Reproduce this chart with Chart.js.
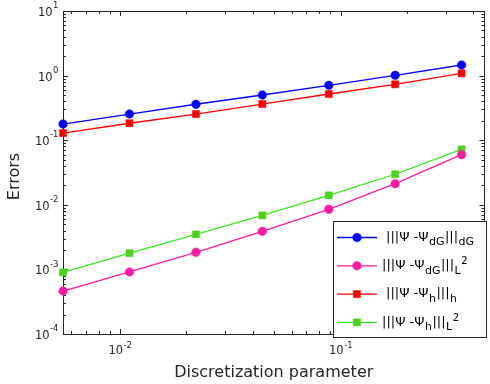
<!DOCTYPE html>
<html lang="en">
<head>
<meta charset="utf-8">
<title>Errors vs discretization parameter</title>
<script src="https://cdn.jsdelivr.net/npm/chart.js"></script>
<style>
  html, body { margin: 0; padding: 0; background: #fff; }
  #wrap { width: 490px; height: 384px; }
</style>
</head>
<body>
<div id="wrap"><canvas id="myChart" width="490" height="384"></canvas></div>
<script>
// data
const hValues   = [0.005524, 0.01105, 0.0221, 0.0442, 0.0884, 0.1768, 0.3536];
const errDgNorm = [0.178, 0.254, 0.360, 0.501, 0.708, 1.01, 1.46];
const errDgL2   = [4.63e-4, 9.12e-4, 1.84e-3, 3.89e-3, 8.51e-3, 0.0212, 0.0597];
const errHNorm  = [0.129, 0.183, 0.254, 0.363, 0.519, 0.733, 1.085];
const errHL2    = [9.0e-4, 1.78e-3, 3.49e-3, 6.87e-3, 0.0140, 0.0297, 0.0723];
const seriesLabels = ['|||Ψ -Ψ_{dG}|||_{dG}', '|||Ψ -Ψ_{dG}|||_{L}^{2}', '|||Ψ -Ψ_{h}|||_{h}', '|||Ψ -Ψ_{h}|||_{L}^{2}'];
const yTicks = [1e-4, 1e-3, 1e-2, 1e-1, 1, 10];
const xTicks = [1e-2, 1e-1];
const xTitle = 'Discretization parameter';
const yTitle = 'Errors';

const FONT = '"DejaVu Sans", sans-serif';
const AXIS = '#262626';

function pts(arr) {
  return hValues.map((h, i) => ({ x: h, y: arr[i] }));
}

function mkSet(label, arr, line, fill, shape, r) {
  return {
    label: label,
    data: pts(arr),
    borderColor: line,
    backgroundColor: fill,
    borderWidth: 1.3,
    pointStyle: shape,
    pointRadius: r,
    pointBackgroundColor: fill,
    pointBorderColor: fill,
    pointBorderWidth: 0.5,
    tension: 0,
    clip: false
  };
}

// draws "10^e" style text at x,y
function drawPow(ctx, exp, x, y, align, baseDy, supDy) {
  const base = '10', sup = String(exp);
  ctx.font = '11.5px ' + FONT;
  const bw = ctx.measureText(base).width;
  ctx.font = '8.5px ' + FONT;
  const sw = ctx.measureText(sup).width;
  let left = align === 'right' ? x - bw - sw : x - (bw + sw) / 2;
  ctx.fillStyle = AXIS;
  ctx.textAlign = 'left';
  ctx.textBaseline = 'middle';
  ctx.font = '11.5px ' + FONT;
  ctx.fillText(base, left, y + baseDy);
  ctx.font = '8.5px ' + FONT;
  ctx.fillText(sup, left + bw + 0.5, y + supDy);
}

// draws a label with _{sub} and ^{sup} parts
function drawRich(ctx, str, x, y) {
  const parts = str.split(/([_^]\{[^}]*\})/).filter(s => s.length);
  ctx.textAlign = 'left';
  ctx.textBaseline = 'middle';
  ctx.fillStyle = '#000';
  parts.forEach(p => {
    let txt = p, size = 13, dy = 0;
    if (p.startsWith('_{')) { txt = p.slice(2, -1); size = 11; dy = 5; }
    else if (p.startsWith('^{')) { txt = p.slice(2, -1); size = 10; dy = -4; }
    ctx.font = size + 'px ' + FONT;
    ctx.fillText(txt, x, y + dy);
    x += ctx.measureText(txt).width + 0.5;
  });
}

const framePlugin = {
  id: 'frame',
  beforeDatasetsDraw(chart) {
    const ctx = chart.ctx;
    const a = chart.chartArea;
    const xs = chart.scales.x, ys = chart.scales.y;
    ctx.save();
    ctx.strokeStyle = AXIS;
    ctx.lineWidth = 1;
    ctx.strokeRect(Math.round(a.left) + 0.5, Math.round(a.top) + 0.5,
      Math.round(a.right - a.left) - 1, Math.round(a.bottom - a.top));

    // y ticks (major + minor), inward on both sides
    ctx.beginPath();
    for (let e = -4; e <= 1; e++) {
      for (let m = 1; m <= 9; m++) {
        const v = m * Math.pow(10, e);
        if (v < ys.min * 0.999 || v > ys.max * 1.001) continue;
        const py = Math.round(ys.getPixelForValue(v)) + 0.5;
        const len = m === 1 ? 5 : 3;
        ctx.moveTo(a.left, py); ctx.lineTo(a.left + len, py);
        ctx.moveTo(a.right, py); ctx.lineTo(a.right - len, py);
      }
    }
    // x ticks
    for (let e = -3; e <= 0; e++) {
      for (let m = 1; m <= 9; m++) {
        const v = m * Math.pow(10, e);
        if (v < xs.min || v > xs.max) continue;
        const px = Math.round(xs.getPixelForValue(v)) + 0.5;
        const len = m === 1 ? 5 : 3;
        ctx.moveTo(px, a.bottom); ctx.lineTo(px, a.bottom - len);
        ctx.moveTo(px, a.top); ctx.lineTo(px, a.top + len);
      }
    }
    ctx.stroke();

    // tick labels
    yTicks.forEach(v => {
      drawPow(ctx, Math.round(Math.log10(v)), a.left - 5, ys.getPixelForValue(v), 'right', 2, -5);
    });
    xTicks.forEach(v => {
      drawPow(ctx, Math.round(Math.log10(v)), xs.getPixelForValue(v), a.bottom + 17, 'center', 0, -5);
    });

    // axis titles
    ctx.fillStyle = AXIS;
    ctx.font = '16px ' + FONT;
    ctx.textAlign = 'center';
    ctx.textBaseline = 'middle';
    ctx.fillText(xTitle, (a.left + a.right) / 2, 373);
    ctx.translate(15, (a.top + a.bottom) / 2 + 4);
    ctx.rotate(-Math.PI / 2);
    ctx.fillText(yTitle, 0, 0);
    ctx.restore();
  },
  afterDraw(chart) {
    const ctx = chart.ctx;
    const bx = 333, by = 221, bw = 154, bh = 117;
    ctx.save();
    ctx.fillStyle = '#fff';
    ctx.fillRect(bx, by, bw, bh);
    ctx.strokeStyle = AXIS;
    ctx.lineWidth = 1;
    ctx.strokeRect(bx + 0.5, by + 0.5, bw - 1, bh - 1);
    chart.data.datasets.forEach((ds, i) => {
      const cy = 237.5 + i * 28.3;
      ctx.strokeStyle = ds.borderColor;
      ctx.lineWidth = ds.borderWidth;
      ctx.beginPath();
      ctx.moveTo(337, cy); ctx.lineTo(377, cy);
      ctx.stroke();
      ctx.fillStyle = ds.pointBackgroundColor;
      ctx.strokeStyle = ds.pointBorderColor;
      ctx.lineWidth = ds.pointBorderWidth;
      Chart.helpers.drawPoint(ctx, { pointStyle: ds.pointStyle, radius: ds.pointRadius, borderWidth: ds.pointBorderWidth }, 357, cy);
      drawRich(ctx, ds.label, i % 2 ? 382 : 386, cy);
    });
    ctx.restore();
  }
};

const ctx = document.getElementById('myChart');
new Chart(ctx, {
  type: 'line',
  data: {
    datasets: [
      mkSet(seriesLabels[0], errDgNorm, '#0000ff', '#0000ff', 'circle', 4.3),
      mkSet(seriesLabels[1], errDgL2, '#ff1aa0', '#ff1aa0', 'circle', 4.3),
      mkSet(seriesLabels[2], errHNorm, '#ff0000', '#ff0000', 'rect', 5),
      mkSet(seriesLabels[3], errHL2, '#33ee1a', '#4dd21a', 'rect', 5)
    ]
  },
  options: {
    responsive: false,
    animation: false,
    layout: { padding: { left: 63, top: 11, right: 3, bottom: 50 } },
    plugins: { legend: { display: false }, tooltip: { enabled: false } },
    scales: {
      x: { type: 'logarithmic', min: 0.00552, max: 0.449, display: false },
      y: { type: 'logarithmic', min: 1e-4, max: 10, display: false }
    }
  },
  plugins: [framePlugin]
});
</script>
</body>
</html>
